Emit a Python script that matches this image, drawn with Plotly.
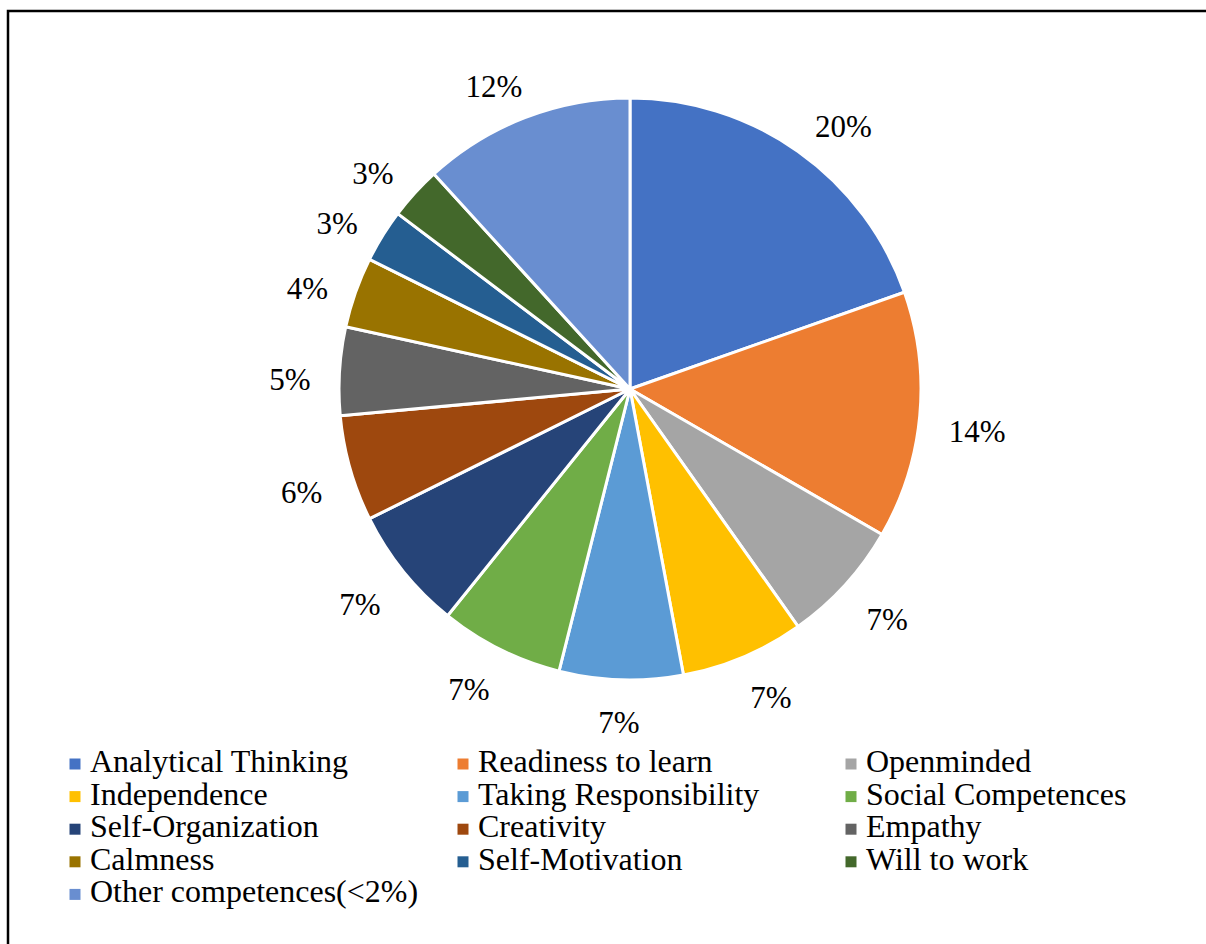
import math
import plotly.graph_objects as go

# Competence categories and their shares (pie slices, clockwise from 12 o'clock)
categories = [
    "Analytical Thinking", "Readiness to learn", "Openminded",
    "Independence", "Taking Responsibility", "Social Competences",
    "Self-Organization", "Creativity", "Empathy",
    "Calmness", "Self-Motivation", "Will to work",
    "Other competences(<2%)",
]
shares = [20, 14, 7, 7, 7, 7, 7, 6, 5, 4, 3, 3, 12]
colors = [
    "#4472C4", "#ED7D31", "#A5A5A5",
    "#FFC000", "#5B9BD5", "#70AD47",
    "#264478", "#9E480E", "#636363",
    "#997300", "#255E91", "#43682B",
    "#698ED0",
]

W, H = 1206, 944
FONT = "Liberation Serif, Times New Roman, serif"
LABEL_FS = 31
LEGEND_FS = 32

# pie geometry in page pixels
cx, cy, rad = 630, 389, 291
anchor_r = 320          # radius of the point each label box leans against
box_h = 32              # approximate label box height


def clip(v, lo, hi):
    return max(lo, min(hi, v))


total = sum(shares)
pct_text = [f"{round(v / total * 100)}%" for v in shares]

# outside percentage labels: box sits just outside the slice's mid-angle point
lx, ly = [], []
cum = 0
for v, t in zip(shares, pct_text):
    theta = (cum + v / 2) / total * 2 * math.pi
    s, c = math.sin(theta), math.cos(theta)
    box_w = LABEL_FS * (0.5 * (len(t) - 1) + 0.833)
    ox = box_w / 2 * clip(2 * s, -1, 1)
    oy = -box_h / 2 * c + 14 * clip((c + 1) / 0.7, 0, 1)
    lx.append(cx + anchor_r * s + ox)
    ly.append(cy - anchor_r * c + oy)
    cum += v

# legend grid: three columns, filled row by row
col_x = [75, 463, 851]
row_y0, row_dy = 764, 32.6
leg_x = [col_x[i % 3] for i in range(len(categories))]
leg_y = [row_y0 + (i // 3) * row_dy for i in range(len(categories))]

fig = go.Figure()

fig.add_trace(go.Pie(
    labels=categories,
    values=shares,
    sort=False,
    direction="clockwise",
    rotation=0,
    marker=dict(colors=colors, line=dict(color="white", width=3)),
    textinfo="none",
    hoverinfo="label+percent",
    showlegend=False,
    domain=dict(
        x=[(cx - rad) / W, (cx + rad) / W],
        y=[1 - (cy + rad) / H, 1 - (cy - rad) / H],
    ),
))

fig.add_trace(go.Scatter(
    x=lx, y=ly, mode="text", text=pct_text,
    textposition="middle center",
    textfont=dict(family=FONT, size=LABEL_FS, color="black"),
    hoverinfo="skip", showlegend=False,
))

fig.add_trace(go.Scatter(
    x=leg_x, y=leg_y, mode="markers",
    marker=dict(symbol="square", size=11, color=colors, line=dict(width=0)),
    hoverinfo="skip", showlegend=False,
))

fig.add_trace(go.Scatter(
    x=[x + 15 for x in leg_x], y=leg_y, mode="text", text=categories,
    textposition="middle right",
    textfont=dict(family=FONT, size=LEGEND_FS, color="black"),
    hoverinfo="skip", showlegend=False,
))

fig.update_layout(
    width=W, height=H,
    margin=dict(l=0, r=0, t=0, b=0),
    paper_bgcolor="white",
    plot_bgcolor="white",
    xaxis=dict(range=[0, W], visible=False, fixedrange=True),
    yaxis=dict(range=[H, 0], visible=False, fixedrange=True),
    shapes=[dict(
        type="rect", xref="x", yref="y",
        x0=8, y0=11, x1=W + 20, y1=H + 20,
        line=dict(color="black", width=2.5),
        fillcolor="rgba(0,0,0,0)", layer="above",
    )],
)

fig.write_html("out.html")
